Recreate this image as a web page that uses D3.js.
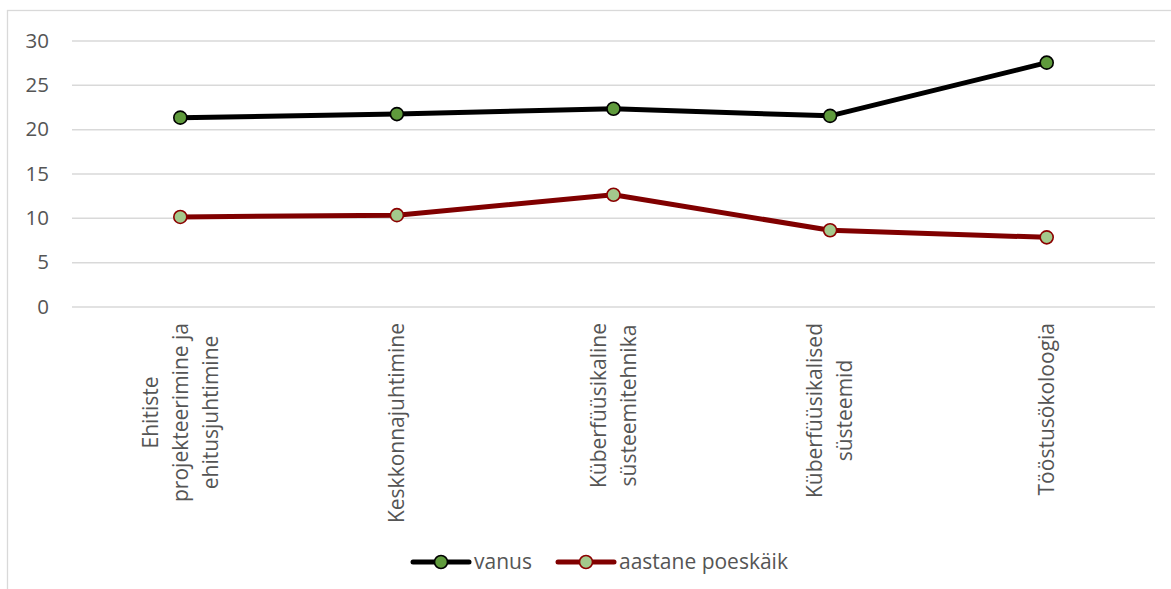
<!DOCTYPE html>
<html>
<head>
<meta charset="utf-8">
<script src="https://cdn.jsdelivr.net/npm/d3@7"></script>
<style>
  html, body { margin: 0; padding: 0; background: #ffffff; }
  svg { display: block; font-family: "Open Sans", sans-serif; }
</style>
</head>
<body>
<svg id="chart" width="1171" height="589"></svg>
<script>
// Programme names (line breaks mark where the axis labels wrap)
const categories = [
  "Ehitiste\nprojekteerimine ja\nehitusjuhtimine",
  "Keskkonnajuhtimine",
  "Küberfüüsikaline\nsüsteemitehnika",
  "Küberfüüsikalised\nsüsteemid",
  "Tööstusökoloogia"
];
// Average age of students
const vanus = [21.3, 21.7, 22.3, 21.5, 27.5];
// Annual dropout (%)
const aastanePoeskaik = [10.1, 10.3, 12.6, 8.6, 7.8];
// Value axis ticks
const yTicks = [0, 5, 10, 15, 20, 25, 30];

const series = [
  { name: "vanus", values: vanus, line: "#000000", fill: "#5f9a3c", stroke: "#000000" },
  { name: "aastane poeskäik", values: aastanePoeskaik, line: "#800000", fill: "#a3c98c", stroke: "#8b0000" }
];

const svg = d3.select("#chart");
const textColor = "#555555";
const gridColor = "#d9d9d9";
const labelSize = "21px";

// Chart frame
svg.append("rect")
  .attr("x", 7.5).attr("y", 10.5)
  .attr("width", 1180).attr("height", 600)
  .attr("fill", "none").attr("stroke", gridColor).attr("stroke-width", 1.3);

const plot = { left: 72, right: 1155, top: 40.5, bottom: 306.5 };

const x = d3.scaleBand().domain(categories).range([plot.left, plot.right]);
const y = d3.scaleLinear().domain([0, 30]).range([plot.bottom, plot.top]);

// Horizontal gridlines and value labels
const yAxis = d3.axisLeft(y).tickValues(yTicks).tickSize(-(plot.right - plot.left)).tickPadding(23);
const yG = svg.append("g").attr("transform", `translate(${plot.left},0)`).call(yAxis);
yG.select(".domain").remove();
yG.selectAll(".tick line").attr("stroke", gridColor).attr("stroke-width", 1.5);
yG.selectAll(".tick text")
  .attr("fill", textColor)
  .style("font-size", "20.5px")
  .style("font-family", "'Open Sans', sans-serif");

// Rotated, wrapped category labels
const lineGap = 30;
const labelTop = 323;
const catG = svg.append("g");
categories.forEach(c => {
  const lines = c.split("\n");
  const g = catG.append("g");
  const texts = lines.map((ln, i) =>
    g.append("text")
      .attr("x", 0)
      .attr("y", (i - (lines.length - 1) / 2) * lineGap)
      .attr("dy", "0.35em")
      .attr("text-anchor", "middle")
      .attr("fill", textColor)
      .style("font-size", labelSize)
      .text(ln)
  );
  const maxLen = d3.max(texts, t => t.node().getComputedTextLength());
  const cx = x(c) + x.bandwidth() / 2;
  g.attr("transform", `translate(${cx},${labelTop + maxLen / 2}) rotate(-90)`);
});

// Series lines and markers
const line = d3.line()
  .x((d, i) => x(categories[i]) + x.bandwidth() / 2)
  .y(d => y(d));

series.forEach(s => {
  svg.append("path")
    .datum(s.values)
    .attr("d", line)
    .attr("fill", "none")
    .attr("stroke", s.line)
    .attr("stroke-width", 5)
    .attr("stroke-linejoin", "round")
    .attr("stroke-linecap", "round");
});
series.forEach(s => {
  svg.append("g").selectAll("circle")
    .data(s.values)
    .join("circle")
    .attr("cx", (d, i) => x(categories[i]) + x.bandwidth() / 2)
    .attr("cy", d => y(d))
    .attr("r", 6.5)
    .attr("fill", s.fill)
    .attr("stroke", s.stroke)
    .attr("stroke-width", 1.6);
});

// Legend
const legendY = 562;
const legendItems = [
  { s: series[0], x0: 413 },
  { s: series[1], x0: 558 }
];
legendItems.forEach(({ s, x0 }) => {
  const g = svg.append("g").attr("transform", `translate(${x0},${legendY})`);
  g.append("line")
    .attr("x1", 0).attr("x2", 56).attr("y1", 0).attr("y2", 0)
    .attr("stroke", s.line).attr("stroke-width", 5).attr("stroke-linecap", "round");
  g.append("circle")
    .attr("cx", 28).attr("cy", 0).attr("r", 6.5)
    .attr("fill", s.fill).attr("stroke", s.stroke).attr("stroke-width", 1.6);
  g.append("text")
    .attr("x", 61).attr("y", 0).attr("dy", "0.35em")
    .attr("fill", textColor)
    .style("font-size", labelSize)
    .text(s.name);
});
</script>
</body>
</html>
